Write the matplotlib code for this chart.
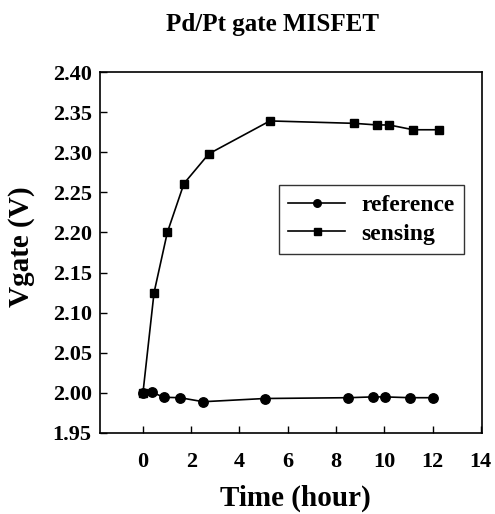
import matplotlib
matplotlib.use("Agg")
import matplotlib.pyplot as plt

# sensing (square markers)
t_sensing = [0.0, 0.46, 1.01, 1.70, 2.73, 5.26, 8.75, 9.70, 10.2, 11.2, 12.26]
v_sensing = [2.000, 2.125, 2.200, 2.261, 2.298, 2.339, 2.336, 2.334, 2.334, 2.328, 2.328]

# reference (circle markers)
t_reference = [0.0, 0.36, 0.87, 1.53, 2.50, 5.05, 8.50, 9.54, 10.02, 11.08, 12.0]
v_reference = [2.000, 2.001, 1.9945, 1.994, 1.989, 1.993, 1.994, 1.995, 1.995, 1.994, 1.994]

xticks = [0, 2, 4, 6, 8, 10, 12, 14]
yticks = [1.95, 2.00, 2.05, 2.10, 2.15, 2.20, 2.25, 2.30, 2.35, 2.40]

plt.rcParams['font.family'] = ['Liberation Serif', 'DejaVu Serif']
plt.rcParams['font.weight'] = 'bold'

fig = plt.figure(figsize=(4.95, 5.14), dpi=100)
ax = fig.add_axes([100/495, 1 - 433/514, 382/495, 361/514])

ax.plot(t_reference, v_reference, color='black', lw=1.2, marker='o', ms=6.8, label='reference')
ax.plot(t_sensing, v_sensing, color='black', lw=1.2, marker='s', ms=6.3, label='sensing')

ax.set_xlim(-1.78, 14.05)
ax.set_ylim(1.95, 2.40)
ax.set_xticks(xticks)
ax.set_yticks(yticks)
ax.set_yticklabels(["%.2f" % y for y in yticks])
ax.tick_params(direction='in', length=5, width=1, labelsize=16)
ax.tick_params(axis='x', pad=14)
ax.tick_params(axis='y', pad=6)
for lab in ax.get_xticklabels() + ax.get_yticklabels():
    lab.set_fontweight('bold')
for s in ax.spines.values():
    s.set_linewidth(1.2)

ax.set_xlabel('Time (hour)', fontsize=21, fontweight='bold', va='center', ha='center')
ax.xaxis.set_label_coords((295 - 100) / 382, (433 - 498) / 361)
ax.set_ylabel('Vgate (V)', fontsize=21, fontweight='bold', va='center', ha='center')
ax.yaxis.set_label_coords((21 - 100) / 382, (433 - 247) / 361)
fig.text(272/495, 1 - 24/514, 'Pd/Pt gate MISFET', ha='center', va='center',
         fontsize=18, fontweight='bold')

leg = ax.legend(loc='upper left', bbox_to_anchor=((279-100)/382, (433-185)/361),
                fontsize=17, frameon=True, fancybox=False, edgecolor='black',
                handlelength=2.4, handletextpad=0.7, borderpad=0.4,
                labelspacing=0.3, markerscale=0.8, borderaxespad=0)
leg.get_frame().set_linewidth(1.0)

fig.savefig('out.png', dpi=100)
